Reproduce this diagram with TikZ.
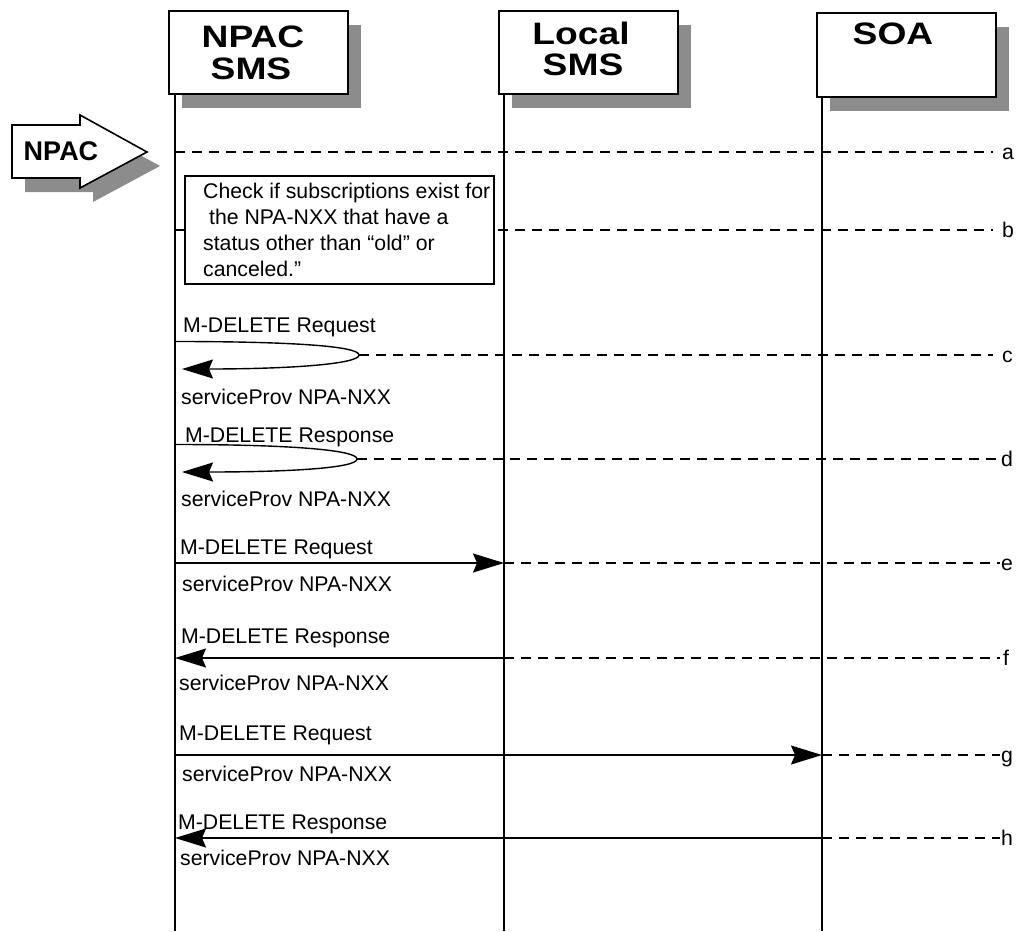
\documentclass[tikz,border=0pt]{standalone}
\usepackage{fontspec}
\setmainfont{Liberation Sans}
\usetikzlibrary{arrows.meta}
\definecolor{shadowgray}{RGB}{140,140,140}
\begin{document}
\begin{tikzpicture}[x=1pt,y=-1pt,
  hbox/.style={draw, line width=1.8pt, fill=white, inner sep=0, anchor=north west},
  life/.style={line width=1.4pt},
  dashln/.style={line width=1.4pt, dash pattern=on 10pt off 7pt},
  msg/.style={line width=1.4pt, -{Stealth[length=31pt,width=19pt,inset=4pt]}},
  hdr/.style={font=\fontsize{31}{32}\selectfont\bfseries, inner sep=0, anchor=base},
  lbl/.style={font=\fontsize{21.25}{26}\selectfont, inner sep=0, anchor=base west},
  tag/.style={font=\fontsize{21.25}{26}\selectfont, inner sep=0, anchor=base west}]
\useasboundingbox (0,0) rectangle (1016,931);

% header shadows
\fill[shadowgray] (182,25) rectangle (361,108);
\fill[shadowgray] (512,25) rectangle (691,108);
\fill[shadowgray] (830,27) rectangle (1009,111);

% NPAC block arrow
\fill[shadowgray] (25,139) -- (93,139) -- (93,129) -- (160,166) -- (93,202) -- (93,192) -- (25,192) -- cycle;
\draw[line width=1.6pt, fill=white] (12,125) -- (80,125) -- (80,115) -- (147,152) -- (80,188) -- (80,178) -- (12,178) -- cycle;
\node[font=\fontsize{27}{27}\selectfont\bfseries, inner sep=0, anchor=base] (npacin) at (61,160) {NPAC};

% lifelines
\coordinate (L1t) at (175,93);  \coordinate (L1b) at (175,931);
\coordinate (L2t) at (504,93);  \coordinate (L2b) at (504,931);
\coordinate (L3t) at (822,96);  \coordinate (L3b) at (822,931);
\draw[life] (L1t) -- (L1b);
\draw[life] (L2t) -- (L2b);
\draw[life] (L3t) -- (L3b);

% header boxes
\node[hbox, minimum width=179pt, minimum height=83pt] (B1) at (168,10) {};
\node[hbox, minimum width=179pt, minimum height=83pt] (B2) at (498,10) {};
\node[hbox, minimum width=179pt, minimum height=84pt] (B3) at (816,12) {};
\node[hdr] (t1a) at (253,48) {\scalebox{1.2}[1]{NPAC}};
\node[hdr] (t1b) at (251,80) {\scalebox{1.2}[1]{SMS}};
\node[hdr] (t2a) at (581,45) {\scalebox{1.2}[1]{Local}};
\node[hdr] (t2b) at (583,76) {\scalebox{1.2}[1]{SMS}};
\node[hdr] (t3a) at (893,45) {\scalebox{1.2}[1]{SOA}};

% dashed step lines
\coordinate (a0) at (175,152); \coordinate (a1) at (993,152);
\coordinate (b0) at (175,230); \coordinate (b1) at (993,230);
\coordinate (c0) at (359,355); \coordinate (c1) at (993,355);
\coordinate (d0) at (357,459); \coordinate (d1) at (1000,459);
\coordinate (e0) at (504,563); \coordinate (e1) at (1000,563);
\coordinate (f0) at (504,658); \coordinate (f1) at (1000,658);
\coordinate (g0) at (822,755); \coordinate (g1) at (1000,755);
\coordinate (h0) at (822,838); \coordinate (h1) at (1000,838);
\foreach \s in {a,b,c,d,e,f,g,h} {\draw[dashln] (\s0) -- (\s1);}

\node[tag] (ta) at (1002,159) {a};
\node[tag] (tb) at (1002,237) {b};
\node[tag] (tc) at (1002,362) {c};
\node[tag] (td) at (1001,466) {d};
\node[tag] (te) at (1001,570) {e};
\node[tag] (tf) at (1003,665) {f};
\node[tag] (tg) at (1001,762) {g};
\node[tag] (th) at (1001,845) {h};

% check box
\node[draw, line width=1.6pt, fill=white, inner sep=0, anchor=north west,
      minimum width=309pt, minimum height=108pt] (chk) at (184,175) {};
\node[font=\fontsize{21.25}{26}\selectfont, inner sep=0, anchor=north west] (chktxt) at (203,179.8)
  {\begin{tabular}{@{}l@{}}Check if subscriptions exist for\\ \hspace*{5.9pt}the NPA-NXX that have a\\ status other than “old” or\\ canceled.”\end{tabular}};

% c: self message
\coordinate (cs) at (175,341.5); \coordinate (ct) at (182,369);
\draw[msg] (cs) .. controls (290,341.5) and (359,346) .. (c0) .. controls (359,364) and (290,369) .. (ct);
\node[lbl] (lc1) at (183,332) {M-DELETE Request};
\node[lbl] (lc2) at (181,404) {serviceProv NPA-NXX};

% d: self message
\coordinate (ds) at (175,444.5); \coordinate (dt) at (182,472);
\draw[msg] (ds) .. controls (290,444.5) and (357,450) .. (d0) .. controls (357,468) and (290,472) .. (dt);
\node[lbl] (ld1) at (185,442) {M-DELETE Response};
\node[lbl] (ld2) at (181,506) {serviceProv NPA-NXX};

% e
\coordinate (es) at (175,563);
\draw[msg] (es) -- (e0);
\node[lbl] (le1) at (180,554) {M-DELETE Request};
\node[lbl] (le2) at (182,591) {serviceProv NPA-NXX};

% f
\coordinate (ft) at (175,658);
\draw[msg] (f0) -- (ft);
\node[lbl] (lf1) at (181,643) {M-DELETE Response};
\node[lbl] (lf2) at (179,690) {serviceProv NPA-NXX};

% g
\coordinate (gs) at (175,755);
\draw[msg] (gs) -- (g0);
\node[lbl] (lg1) at (179,740) {M-DELETE Request};
\node[lbl] (lg2) at (182,781) {serviceProv NPA-NXX};

% h
\coordinate (ht) at (175,838);
\draw[msg] (h0) -- (ht);
\node[lbl] (lh1) at (178,829) {M-DELETE Response};
\node[lbl] (lh2) at (180,865) {serviceProv NPA-NXX};
\end{tikzpicture}
\end{document}
